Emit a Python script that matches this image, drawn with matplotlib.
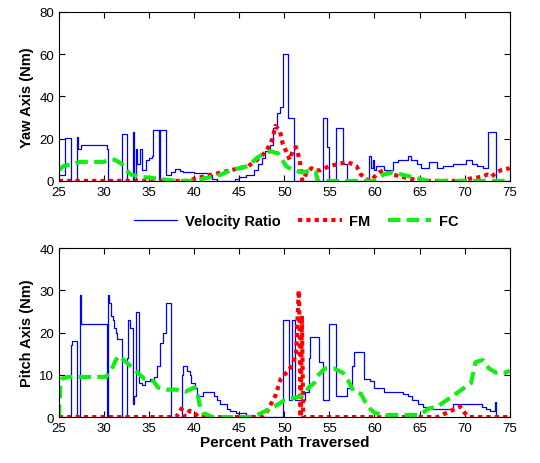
import numpy as np
import matplotlib.pyplot as plt

plt.rcParams['font.family'] = ['Liberation Sans', 'DejaVu Sans']

# ---- Yaw axis data ----
yaw_vr_x = [25, 25.7, 26.4, 27.0, 27.15, 27.4, 30.3, 30.4, 32.0, 32.6, 33.2, 33.35, 33.5, 33.7, 33.95, 34.2,
            34.7, 35.0, 35.3, 35.4, 36.1, 36.2, 36.9, 37.4, 37.9, 38.4, 38.8, 40.0, 41.5, 42.0, 42.5,
            44.5, 45.0, 45.8, 46.6, 47.1, 47.5, 47.9, 48.4, 48.8, 49.2, 49.5, 49.8, 50.4, 51.1,
            54.3, 54.7, 55.0, 55.7, 56.5, 57.0, 59.4, 59.6, 59.8, 60.0, 60.2, 61.0, 62.0, 62.6, 63.7,
            64.1, 64.7, 65.2, 66.1, 66.9, 67.6, 68.7, 70.2, 70.8, 71.4, 72.0, 72.6, 73.5, 75]
yaw_vr_y = [3, 20.5, 0, 21, 15, 17, 15, 0, 22, 0, 23, 0, 15, 8, 15, 5,
            10, 11, 12, 24, 0, 24, 3, 4, 5.5, 4.5, 4, 3.5, 3, 1, 0,
            1, 2, 3, 5, 8, 11, 14, 17, 25, 32, 35, 60, 30, 0,
            30, 16, 0, 25, 8, 0, 12, 6, 10, 5, 7, 5, 9, 10, 12,
            10, 8, 6, 9, 6, 7, 8, 10, 8, 7, 6, 23, 0, 0]
yaw_fm_x = [25, 39.5, 40, 41, 42, 43, 44, 45, 46, 47, 48, 48.7, 49, 49.5, 49.8, 50.2, 50.6, 51, 51.3, 51.7,
            52.0, 52.5, 53, 53.5, 54, 54.5, 55, 56, 57, 57.5, 58, 58.5, 59, 59.5, 60, 60.5, 61, 62, 63, 64, 65,
            70, 70.5, 72, 72.5, 73, 73.5, 74, 75]
yaw_fm_y = [0, 0, 1, 2, 3, 4, 5, 6, 7, 10, 14, 20, 26, 24, 18, 14, 10, 15, 16, 10,
            0, 4, 6, 5, 5, 6, 7, 8, 9, 8, 7, 3, 1, 0, 2, 4, 5, 3, 2, 1, 0,
            0, 1, 2, 3, 2, 4, 5, 6]
yaw_fc_x = [25, 25.5, 26.5, 27.3, 30, 30.5, 31.2, 32, 32.5, 33, 34, 35, 36, 37, 38, 40, 41, 42, 43, 44, 45,
            46, 46.5, 47, 47.8, 48.5, 49.3, 49.6, 50.2, 51, 52, 53, 53.5, 53.7, 60, 61, 62, 63, 64, 65, 66, 75]
yaw_fc_y = [5, 7, 8, 9, 9, 10, 10, 8, 5, 3, 2, 1.5, 1, 0.5, 0, 0, 1, 2, 3, 5, 6,
            7, 9, 11, 13, 14, 13, 11, 7, 5, 4, 5, 4, 0, 0, 3, 4, 3, 2, 1, 0, 0]

# ---- Pitch axis data ----
pitch_vr_x = [25, 26.4, 26.5, 26.7, 27.0, 27.3, 27.5, 30.3, 30.4, 30.6, 30.75, 30.95, 31.1, 31.3, 31.5,
              32.0, 32.6, 32.7, 32.9, 33.2, 33.35, 33.6, 33.85, 34.2, 34.5, 35.1, 35.5, 35.9, 36.2, 36.6,
              36.9, 37.4, 38.6, 38.8, 39.2, 39.5, 39.7, 40.1, 40.3, 41.0, 42.2, 42.5, 42.9, 43.6, 44.0,
              44.6, 45.8, 46.6, 49.8, 50.5, 50.9, 51.2, 52.3, 52.7, 52.9, 53.8, 54.3, 55.0, 55.7, 56.9,
              57.1, 57.5, 57.7, 58.8, 59.5, 59.9, 61.0, 62.8, 63.2, 63.7, 64.2, 64.8, 65.4, 66.1, 68.7,
              71.0, 71.9, 72.4, 72.8, 73.4, 73.5, 75]
pitch_vr_y = [0, 17, 18, 18, 0, 29, 22, 0, 29, 27, 24, 23, 21, 20, 18.5,
              0, 14, 23, 21, 3, 5, 25, 8, 7.5, 8.5, 9, 9.5, 12, 17.5, 20,
              27, 0, 10, 12, 11, 10, 8, 7, 5, 6, 5, 4, 3, 2, 1.5,
              1, 0.5, 0, 23, 4, 23, 4, 6, 14, 19, 13, 4, 22, 5, 7,
              7, 12, 15.5, 9, 8.5, 7, 6, 6, 5.5, 5, 4, 3, 2.5, 2, 3,
              3, 2.5, 2, 1.5, 3.5, 0, 0]
pitch_fm_x = [25, 38, 38.6, 39, 39.5, 40, 40.5, 47.5, 48, 48.5, 49, 49.3, 49.6, 50, 50.5, 51, 51.3, 51.6,
              51.7, 51.8, 51.95, 52.1, 67, 68, 69, 69.5, 70, 70.5, 75]
pitch_fm_y = [0, 0, 2, 0, 1.5, 1, 0, 0, 1, 3, 5, 7, 9, 10, 11, 13, 15, 30,
              22, 0, 24, 0, 0, 1, 2, 2.5, 1, 0, 0]
pitch_fc_x = [25, 25.2, 26, 30.2, 30.8, 31.2, 31.6, 32.2, 33, 33.5, 34, 34.5, 35.5, 36, 37, 38, 39, 40,
              40.3, 40.6, 41, 42, 46.5, 47.5, 48.5, 49.3, 50, 51, 52, 52.3, 52.7, 53.3, 53.8, 54.5, 55.5,
              56.5, 57, 57.7, 58.5, 59, 59.5, 60, 61, 65, 66, 67, 68, 69, 70, 70.7, 71.2, 72, 72.7, 73.5,
              74.5, 75]
pitch_fc_y = [0, 9, 9.5, 9.5, 11, 13, 14.5, 13.5, 12, 11, 10, 9, 8.5, 7, 6.5, 6.5, 6, 7,
              6.5, 3, 1, 0, 0, 1, 2, 3, 4, 4.5, 5, 5.5, 7, 8, 10, 11.5, 11.5,
              10.5, 9, 6, 5.5, 3.5, 2, 1, 0.5, 0.5, 2, 2.5, 4, 5.5, 7, 8, 13, 13.5, 11.5, 10.5,
              10.5, 11]

x_ticks = np.arange(25, 76, 5)

fig = plt.figure(figsize=(5.4, 4.64), dpi=100)
ax1 = fig.add_axes([0.109, 0.608, 0.835, 0.364])
ax2 = fig.add_axes([0.109, 0.099, 0.835, 0.364])

for ax, vx, vy, mx, my, cx, cy in [
        (ax1, yaw_vr_x, yaw_vr_y, yaw_fm_x, yaw_fm_y, yaw_fc_x, yaw_fc_y),
        (ax2, pitch_vr_x, pitch_vr_y, pitch_fm_x, pitch_fm_y, pitch_fc_x, pitch_fc_y)]:
    ax.step(vx, vy, where='post', color='#0000ff', lw=0.9, label='Velocity Ratio')
    ax.plot(mx, my, color='#ff0000', lw=3, ls=(0, (1, 1)), label='FM')
    ax.plot(cx, cy, color='#11ee11', lw=3, ls=(0, (3, 1.5)), label='FC')
    ax.set_xlim(25, 75)
    ax.set_xticks(x_ticks)
    ax.tick_params(direction='in', top=True, right=True, labelsize=9.5, length=4)

ax1.set_ylim(0, 80)
ax1.set_yticks([0, 20, 40, 60, 80])
ax1.set_ylabel('Yaw Axis (Nm)', fontweight='bold', fontsize=10.5)
ax2.set_ylim(0, 40)
ax2.set_yticks([0, 10, 20, 30, 40])
ax2.set_ylabel('Pitch Axis (Nm)', fontweight='bold', fontsize=10.5)
ax2.set_xlabel('Percent Path Traversed', fontweight='bold', fontsize=11, labelpad=1)

handles, labels = ax1.get_legend_handles_labels()
fig.legend(handles, labels, loc='center', bbox_to_anchor=(0.548, 0.522), ncol=3, frameon=False,
           prop={'weight': 'bold', 'size': 10.5}, handlelength=3, columnspacing=1.2, handletextpad=0.5)

fig.savefig('out.png', dpi=100)
